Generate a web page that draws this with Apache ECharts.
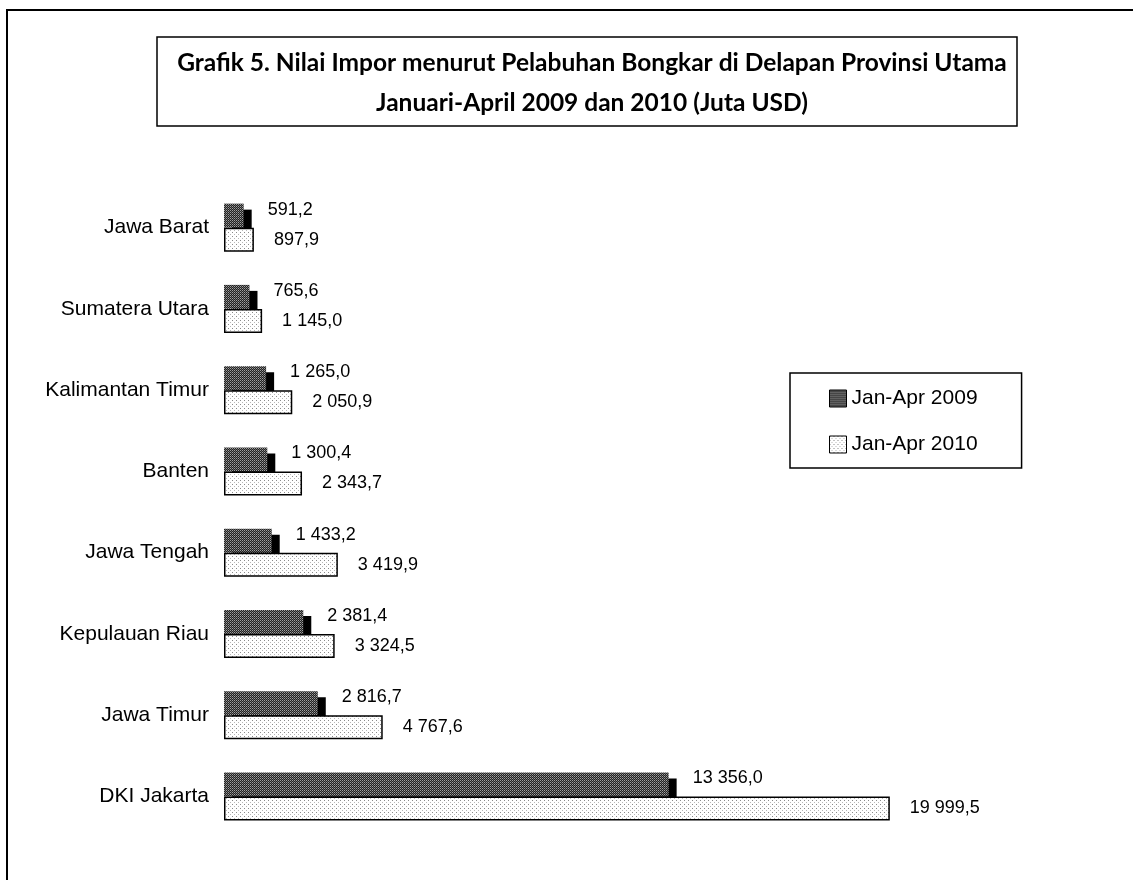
<!DOCTYPE html>
<html>
<head>
<meta charset="utf-8">
<script src="https://cdn.jsdelivr.net/npm/echarts@6/dist/echarts.min.js"></script>
<style>
  html, body { margin: 0; padding: 0; background: #fff; }
  #chart { width: 1133px; height: 880px; }
</style>
</head>
<body>
<div id="chart"></div>
<script>
// data (top to bottom)
var provinces = ['Jawa Barat', 'Sumatera Utara', 'Kalimantan Timur', 'Banten',
                 'Jawa Tengah', 'Kepulauan Riau', 'Jawa Timur', 'DKI Jakarta'];
var jan2009 = [591.2, 765.6, 1265.0, 1300.4, 1433.2, 2381.4, 2816.7, 13356.0];
var jan2010 = [897.9, 1145.0, 2050.9, 2343.7, 3419.9, 3324.5, 4767.6, 19999.5];
var seriesNames = ['Jan-Apr 2009', 'Jan-Apr 2010'];

function tile(bg, dots, w, h) {
    var c = document.createElement('canvas');
    c.width = w; c.height = h;
    var ctx = c.getContext('2d');
    ctx.fillStyle = bg;
    ctx.fillRect(0, 0, w, h);
    dots.forEach(function (d) {
        ctx.fillStyle = d[2];
        ctx.fillRect(d[0], d[1], 1, 1);
    });
    return c;
}
var darkFill = { image: tile('#222222', [[0, 0, '#a0a0a0'], [1, 1, '#6a6a6a']], 2, 2), repeat: 'repeat' };
var lightFill = { image: tile('#ffffff', [[0, 0, '#8a8a8a'], [2, 2, '#b8b8b8']], 4, 4), repeat: 'repeat' };

function fmt(v) {
    var s = v.toFixed(1).split('.');
    return s[0].replace(/\B(?=(\d{3})+(?!\d))/g, ' ') + ',' + s[1];
}

var myChart = echarts.init(document.getElementById('chart'));
var option = {
    animation: false,
    title: {
        text: 'Grafik 5. Nilai Impor menurut Pelabuhan Bongkar di Delapan Provinsi Utama\nJanuari-April 2009 dan 2010 (Juta USD)',
        left: 587,
        top: 38,
        textAlign: 'center',
        textStyle: {
            fontFamily: 'Lato',
            fontWeight: 'bold',
            fontSize: 24.5,
            lineHeight: 40,
            color: '#000'
        }
    },
    graphic: [
        {
            type: 'rect',
            shape: { x: 7, y: 10, width: 1300, height: 1000 },
            style: { fill: 'none', stroke: '#000', lineWidth: 2 },
            silent: true
        },
        {
            type: 'rect',
            shape: { x: 157, y: 37, width: 860, height: 89 },
            style: { fill: 'none', stroke: '#000', lineWidth: 1.5 },
            silent: true
        }
    ],
    legend: {
        orient: 'vertical',
        left: 790,
        top: 373,
        padding: [15, 44, 13, 39],
        borderColor: '#000',
        borderWidth: 1.5,
        itemWidth: 17,
        itemHeight: 17,
        itemGap: 25,
        icon: 'rect',
        itemStyle: {
            borderColor: '#000',
            borderWidth: 1,
            shadowColor: 'transparent',
            shadowOffsetX: 0,
            shadowOffsetY: 0
        },
        textStyle: { fontFamily: 'Liberation Sans', fontSize: 21, color: '#000' },
        data: seriesNames
    },
    grid: {
        left: 224,
        right: 110,
        top: 187,
        bottom: 43,
        containLabel: false
    },
    xAxis: {
        type: 'value',
        min: 0,
        max: 24000,
        show: false
    },
    yAxis: {
        type: 'category',
        inverse: true,
        data: provinces,
        axisLine: { show: false },
        axisTick: { show: false },
        axisLabel: {
            margin: 15,
            fontFamily: 'Liberation Sans',
            fontSize: 21,
            color: '#000'
        }
    },
    series: [
        {
            name: seriesNames[0],
            type: 'bar',
            data: jan2009,
            barWidth: 24,
            barGap: '0%',
            itemStyle: {
                color: darkFill,
                borderWidth: 0,
                shadowColor: '#000',
                shadowBlur: 0,
                shadowOffsetX: 8,
                shadowOffsetY: 6
            },
            label: {
                show: true,
                position: 'right',
                distance: 24,
                offset: [0, -6],
                fontFamily: 'Liberation Sans',
                fontSize: 18,
                color: '#000',
                formatter: function (p) { return fmt(p.value); }
            }
        },
        {
            name: seriesNames[1],
            type: 'bar',
            data: jan2010,
            barWidth: 24,
            itemStyle: {
                color: lightFill,
                borderColor: '#000',
                borderWidth: 1.5
            },
            label: {
                show: true,
                position: 'right',
                distance: 20,
                fontFamily: 'Liberation Sans',
                fontSize: 18,
                color: '#000',
                formatter: function (p) { return fmt(p.value); }
            }
        }
    ]
};
myChart.setOption(option);
</script>
</body>
</html>
